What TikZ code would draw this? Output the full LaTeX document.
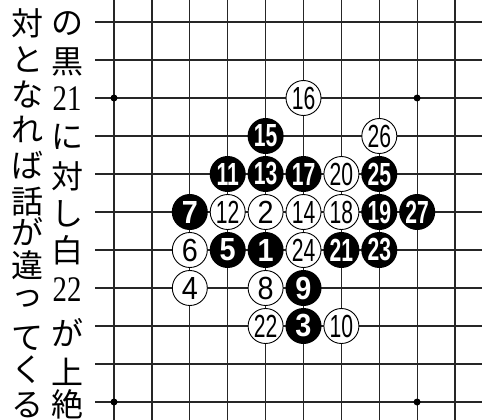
\documentclass[tikz,border=0pt]{standalone}
\usepackage{fontspec}
\usepackage{graphicx}
\setmainfont{Liberation Sans}
\newfontfamily\jpfont{Noto Sans CJK JP}
\newfontfamily\numfont{Liberation Serif}
\tikzset{
  gridline/.style={line width=1.3pt, draw=black!85},
  starpt/.style={circle, fill=black, inner sep=0pt, minimum size=7pt},
  bstone/.style={circle, fill=black, text=white, inner sep=0pt, minimum size=36pt,
    font=\fontsize{32}{32}\selectfont\bfseries},
  wstone/.style={circle, fill=white, draw=black, line width=0.9pt, text=black, inner sep=0pt,
    minimum size=35pt, font=\fontsize{32}{32}\selectfont},
  jp/.style={inner sep=0pt, font=\fontsize{32}{32}\selectfont\jpfont},
  jpnum/.style={inner sep=0pt, font=\fontsize{36}{36}\selectfont\numfont}
}
\newcommand\stonelabel[1]{\ifnum#1>9 \scalebox{0.66}[1]{#1}\else\scalebox{0.9}[1]{#1}\fi}
\begin{document}
\begin{tikzpicture}[x=1pt,y=-1pt]
\useasboundingbox (0,0) rectangle (482,420);
\fill[white] (0,0) rectangle (482,420);
% grid
\foreach \c in {0,...,9} \draw[gridline] ({114+37.9*\c},0) -- ({114+37.9*\c},420);
\foreach \r in {0,...,10} \draw[gridline] (95,{22+38*\r}) -- (482,{22+38*\r});
% star points
\node[starpt] (h1) at (114,98) {};
\node[starpt] (h2) at (417.1,98) {};
\node[starpt] (h3) at (114,402) {};
\node[starpt] (h4) at (417.1,402) {};
% black stones
\foreach \n/\c/\r in {15/4/3, 11/3/4, 13/4/4, 17/5/4, 25/7/4, 7/2/5, 19/7/5, 27/8/5,
  5/3/6, 1/4/6, 21/6/6, 23/7/6, 9/5/7, 3/5/8}
  \node[bstone] (s\n) at ({114+37.9*\c},{22+38*\r}) {\stonelabel{\n}};
% white stones
\foreach \n/\c/\r in {16/5/2, 26/7/3, 20/6/4, 12/3/5, 2/4/5, 14/5/5, 18/6/5,
  6/2/6, 24/5/6, 4/2/7, 8/4/7, 22/4/8, 10/6/8}
  \node[wstone] (s\n) at ({114+37.9*\c},{22+38*\r}) {\stonelabel{\n}};
% right text column
\node[jp] (r1) at (67,24) {の};
\node[jp] (r2) at (67,62) {黒};
\node[jpnum] (r3) at (67,99) {\scalebox{0.8}[1]{21}};
\node[jp] (r4) at (67,137) {に};
\node[jp] (r5) at (67,176) {対};
\node[jp] (r6) at (67,214) {し};
\node[jp] (r7) at (67,250) {白};
\node[jpnum] (r8) at (67,290) {\scalebox{0.8}[1]{22}};
\node[jp] (r9) at (67,333) {が};
\node[jp] (r10) at (67,372) {上};
\node[jp] (r11) at (67,404) {絶};
% left text column
\node[jp] (l1) at (28,23) {対};
\node[jp] (l2) at (28,60) {と};
\node[jp] (l3) at (28,94) {な};
\node[jp] (l4) at (28,129) {れ};
\node[jp] (l5) at (28,165) {ば};
\node[jp] (l6) at (28,202) {話};
\node[jp] (l7) at (28,232) {が};
\node[jp] (l8) at (28,265) {違};
\node[jp] (l9) at (28,299) {っ};
\node[jp] (l10) at (28,338) {て};
\node[jp] (l11) at (28,370) {く};
\node[jp] (l12) at (28,405) {る};
\end{tikzpicture}
\end{document}
